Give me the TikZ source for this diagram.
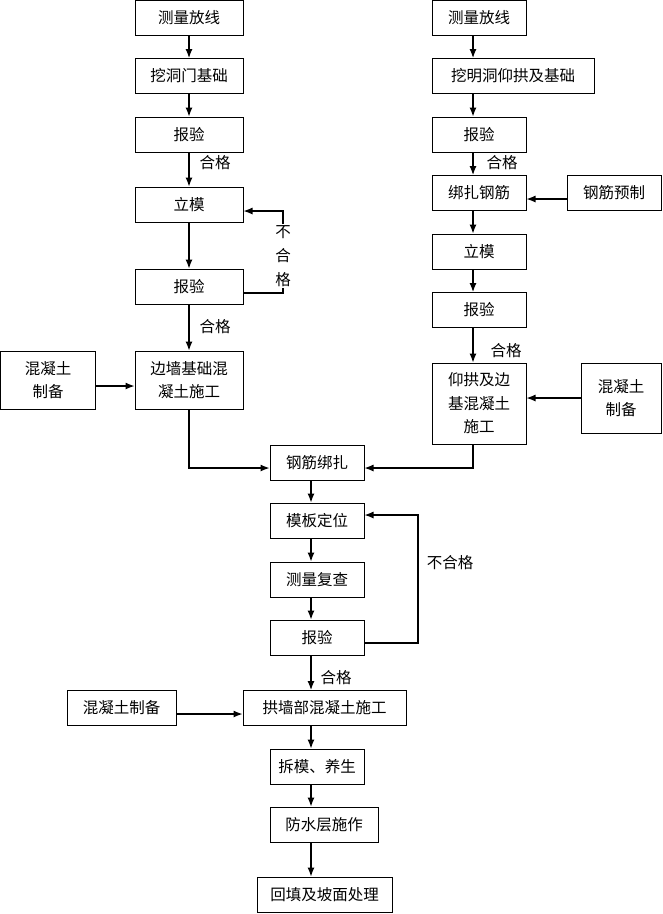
\documentclass[tikz,border=0pt]{standalone}
\usepackage{fontspec}
\newfontfamily\cjk{Noto Sans CJK SC}
\usetikzlibrary{arrows.meta}

\begin{document}
\begin{tikzpicture}[x=1pt, y=-1pt, >={Latex[length=9pt,width=7pt]}, font={\cjk\fontsize{15.5}{23.5}\selectfont},
		kasten/.style={draw, line width=1pt, inner sep=0pt, align=center, minimum height=35pt},
		pfeil/.style={->, line width=1.2pt},
		ok/.style={inner sep=1pt}]
				\useasboundingbox (0,0) rectangle (663,914);
				% Spalten
				\coordinate (lx) at (189,0);
				\coordinate (rx) at (473,0);
				\coordinate (cx) at (311,0);
				% linke Spalte
				\node[kasten, minimum width=108pt] (L1) at (189,18) {测量放线};
				\node[kasten, minimum width=108pt] (L2) at (189,76) {挖洞门基础};
				\node[kasten, minimum width=108pt] (L3) at (189,134.5) {报验};
				\node[kasten, minimum width=108pt] (L4) at (189,204.5) {立模};
				\node[kasten, minimum width=108pt] (L5) at (189,286.5) {报验};
				\node[kasten, minimum width=108pt, minimum height=58pt] (L6) at (189,380) {边墙基础混\\凝土施工};
				\node[kasten, minimum width=95pt, minimum height=58pt] (LC) at (48,380) {混凝土\\制备};
				% rechte Spalte
				\node[kasten, minimum width=94pt] (R1) at (479,18) {测量放线};
				\node[kasten, minimum width=162pt] (R2) at (513,76) {挖明洞仰拱及基础};
				\node[kasten, minimum width=94pt] (R3) at (479,134.5) {报验};
				\node[kasten, minimum width=94pt] (R4) at (479,193) {绑扎钢筋};
				\node[kasten, minimum width=94pt] (RP) at (614,193) {钢筋预制};
				\node[kasten, minimum width=94pt] (R5) at (479,251.5) {立模};
				\node[kasten, minimum width=94pt] (R6) at (479,310) {报验};
				\node[kasten, minimum width=94pt, minimum height=81pt] (R7) at (479,403.5) {仰拱及边\\基混凝土\\施工};
				\node[kasten, minimum width=80pt, minimum height=70pt] (RC) at (621,398) {混凝土\\制备};
				% mittlere Spalte
				\node[kasten, minimum width=94pt] (C1) at (317,462.5) {钢筋绑扎};
				\node[kasten, minimum width=94pt] (C2) at (317,520.5) {模板定位};
				\node[kasten, minimum width=94pt] (C3) at (317,579.5) {测量复查};
				\node[kasten, minimum width=94pt] (C4) at (317,637.5) {报验};
				\node[kasten, minimum width=163pt] (C5) at (324.5,708) {拱墙部混凝土施工};
				\node[kasten, minimum width=109pt] (CC) at (121.5,708) {混凝土制备};
				\node[kasten, minimum width=94pt] (C6) at (317,766.5) {拆模、养生};
				\node[kasten, minimum width=108pt] (C7) at (324,824.5) {防水层施作};
				\node[kasten, minimum width=135pt] (C8) at (324.5,894.5) {回填及坡面处理};
				% Pfeile
				\foreach \a/\b in {L1/L2,L2/L3,L3/L4,L4/L5,L5/L6} \draw[pfeil] (\a.south -| lx) -- (\b.north -| lx);
				\foreach \a/\b in {R1/R2,R2/R3,R3/R4,R4/R5,R5/R6,R6/R7} \draw[pfeil] (\a.south -| rx) -- (\b.north -| rx);
				\foreach \a/\b in {C1/C2,C2/C3,C3/C4,C4/C5,C5/C6,C6/C7,C7/C8} \draw[pfeil] (\a.south -| cx) -- (\b.north -| cx);
				\draw[pfeil] ([yshift=-6pt]LC.east) -- ([yshift=-6pt]L6.west);
				\draw[pfeil] ([yshift=-6pt]RP.west) -- ([yshift=-6pt]R4.east);
				\draw[pfeil] (RC.west) -- (RC.west -| R7.east);
				\draw[pfeil] ([yshift=-6pt]CC.east) -- ([yshift=-6pt]C5.west);
				\draw[pfeil] (L6.south -| lx) |- ([yshift=-5.5pt]C1.west);
				\draw[pfeil] (R7.south -| rx) |- ([yshift=-5.5pt]C1.east);
				% Rueckfuehrung
				\coordinate (lq) at (283,250);
				\coordinate (lp) at (418,580);
				\draw[pfeil] ([yshift=-6.5pt]L5.east) -| (lq) |- ([yshift=-6.5pt]L4.east);
				\draw[pfeil] ([yshift=-5.5pt]C4.east) -| (lp) |- ([yshift=5.5pt]C2.east);
				% Beschriftung
				\node[ok, fill=white, align=center, font={\cjk\fontsize{15.5}{24}\selectfont}] (n1) at (283,256) {不\\合\\格};
				\node[ok] (n2) at (450,563) {不合格};
				\node[ok] (g1) at (215,163) {合格};
				\node[ok] (g2) at (215,327) {合格};
				\node[ok] (g3) at (502,163) {合格};
				\node[ok] (g4) at (506,351) {合格};
				\node[ok] (g5) at (336,678) {合格};
		\end{tikzpicture}
\end{document}
